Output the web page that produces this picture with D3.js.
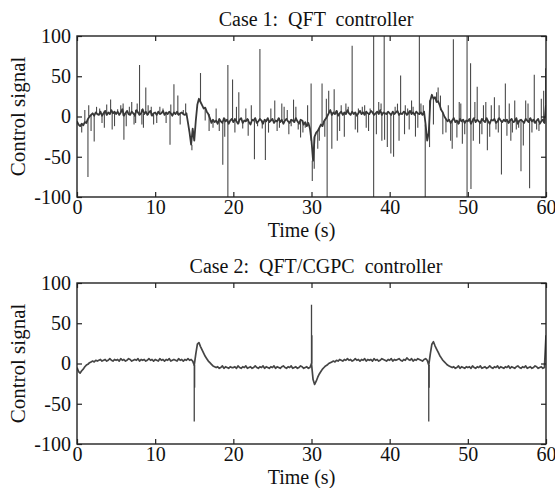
<!DOCTYPE html>
<html>
<head>
<meta charset="utf-8">
<script src="https://cdn.jsdelivr.net/npm/d3@7"></script>
<style>
  html, body { margin: 0; padding: 0; background: #fff; }
  svg { display: block; }
  text { font-family: "Liberation Serif", "Times New Roman", serif; fill: #111; }
</style>
</head>
<body>
<svg id="chart" width="555" height="488"></svg>
<script>
// ---------------- DATA ----------------
const xTicks = [0, 10, 20, 30, 40, 50, 60];
const yTicks = [-100, -50, 0, 50, 100];
const titles = ["Case 1:  QFT  controller", "Case 2:  QFT/CGPC  controller"];
const xLabel = "Time (s)";
const yLabel = "Control signal";
const sampleStep = 0.2; // seconds between base samples

// Case 1: base signal sampled every 0.2 s (t = 0 ... 60)
const case1Base = [
  -6,-10,-12,-9,-11,-7,-8,-3,0,2,4,1,5,3,2,6,1,4,7,2,5,3,8,4,6,
  3,6,2,5,9,1,4,7,3,2,6,4,1,8,5,2,4,9,3,6,2,5,7,1,4,
  5,2,6,3,4,7,2,5,3,6,4,1,5,3,6,2,4,5,3,2,4,-8,-20,-35,-15,
  -30,-5,15,22,18,14,10,11,6,3,-2,-8,-4,-7,-5,-9,-3,-6,-8,-2,-6,-4,-9,-5,-3,
  -7,-3,-6,-9,-4,-2,-8,-5,-6,-3,-7,-10,-4,-5,-2,-8,-6,-3,-5,-9,-4,-6,-2,-7,-5,
  -3,-8,-5,-6,-2,-7,-4,-9,-5,-3,-6,-8,-4,-5,-7,-2,-6,-9,-4,-5,-10,-7,-12,-8,-15,
  -30,-55,-25,-20,-18,-14,-10,-12,-6,-3,0,4,8,2,5,3,7,1,4,6,2,5,3,8,4,
  2,6,3,5,1,4,7,3,5,2,6,4,3,7,5,2,4,6,3,8,2,5,4,3,6,
  4,2,6,3,5,7,2,4,3,6,5,2,4,7,3,5,2,6,4,3,5,2,6,-10,-30,
  -20,20,27,22,24,18,19,14,8,5,0,-3,-6,-4,-8,-5,-2,-7,-5,-9,-3,-6,-4,-8,-5,
  -6,-3,-9,-5,-2,-7,-4,-6,-8,-3,-5,-7,-2,-6,-9,-4,-5,-3,-8,-6,-2,-5,-7,-4,-6,
  -4,-8,-5,-3,-7,-6,-2,-9,-5,-4,-6,-8,-3,-5,-7,-2,-6,-4,-8,-5,-3,-9,-6,-4,-8,
  15
];

// Case 1: large spikes [time, value]
const case1Spikes = [
  [1.4,-75],[1.5,14],[2.2,-31],[2.9,10],[3.5,-14],[4.3,21],[4.8,-12],[5.6,14],[6.0,-29],
  [6.7,12],[7.3,-10],[7.7,16],[8.0,64],[8.3,-10],[8.8,36],[9.5,12],[10.2,-8],[11.0,10],
  [11.9,-35],[12.4,40],[12.9,26],[13.6,8],[14.7,-42],[15.8,54],[16.4,-5],[17.4,-14],
  [18.2,-18],[18.65,-60],[19.3,64],[19.3,-100],[19.9,46],[20.2,-20],[20.7,30],[21.2,-15],
  [21.6,10],[22.7,-53],[23.1,-12],[23.4,84],[24.1,-54],[24.5,-20],[25.3,20],[25.9,-14],
  [26.5,12],[27.1,-22],[27.7,21],[28.3,-16],[28.9,-20],[29.5,14],[29.95,41],[30.1,-80],
  [30.35,-65],[30.8,-40],[31.35,41],[31.7,-25],[32.0,-100],[32.2,32],[32.6,-40],[32.9,34],
  [33.3,-30],[33.8,14],[34.2,-25],[34.7,12],[35.2,88],[35.6,-16],[36.0,10],[36.5,12],
  [37.0,-14],[37.5,10],[37.95,100],[37.95,-100],[38.6,18],[39.0,-30],[39.3,100],[39.35,-29],
  [40.15,-46],[40.5,-50],[41.0,16],[41.4,51],[41.9,-22],[42.3,10],[42.8,20],[43.3,-25],
  [43.8,100],[44.3,14],[44.55,-100],[45.1,-38],[46.0,30],[46.5,26],[47.2,-20],[47.8,-30],
  [48.15,96],[48.6,-26],[49.1,16],[49.6,-22],[49.9,100],[49.9,-100],[50.35,66],[50.4,-90],
  [50.9,18],[51.2,37],[51.5,-34],[52.0,14],[52.5,-42],[53.0,14],[53.4,24],[53.9,-20],
  [54.3,-72],[54.8,41],[55.3,16],[55.7,-20],[56.2,-16],[56.8,-68],[57.4,20],[57.9,-89],
  [58.5,52],[59.1,-18],[59.7,32],[59.95,60]
];

// Case 1: small noise spikes [time, value]
const case1SmallSpikes = [
  [0.6,-20],[1.0,8],[1.8,-18],[2.5,12],[3.2,-8],[3.8,15],[4.5,-16],[5.2,9],[5.9,16],
  [6.3,-12],[7.0,18],[7.5,-8],[8.5,-14],[9.1,14],[9.8,-10],[10.6,12],[11.4,-8],[12.0,15],
  [13.2,-10],[13.9,16],[14.3,-20],[16.9,-18],[17.8,10],[18.9,-25],[20.4,12],[21.9,-24],
  [22.3,14],[23.7,-15],[24.8,10],[25.6,-18],[26.2,16],[26.9,8],[27.4,-12],[28.0,12],
  [28.6,-26],[29.2,-14],[31.0,-30],[31.9,22],[33.6,-18],[34.4,16],[35.9,-20],[36.8,14],
  [37.3,-18],[38.3,-22],[38.9,16],[39.7,-38],[40.7,12],[41.2,-30],[42.0,14],[42.5,-16],
  [43.0,12],[43.6,-14],[44.0,16],[45.6,-10],[46.2,36],[46.8,-22],[47.5,14],[48.0,-40],
  [48.9,18],[49.3,-34],[50.7,-30],[51.8,-22],[52.3,18],[52.8,-25],[53.6,-16],[54.0,14],
  [55.0,-24],[55.5,-30],[56.0,20],[56.5,-14],[57.1,-36],[57.7,16],[58.2,-20],[58.8,-16],
  [59.4,22]
];

// Case 2: base signal sampled every 0.2 s (t = 0 ... 60)
const case2Base = [
  -5,-10,-12,-9,-7,-4,-2,-1,1,2,3,2,4,3,4,5,3,4,5,3,4,6,4,3,5,
  4,5,3,6,4,5,3,4,6,5,3,4,5,4,6,3,5,4,5,3,4,6,4,5,3,
  5,4,3,6,4,5,3,5,4,6,3,4,5,4,3,6,4,5,3,5,4,6,4,5,3,
  -2,12,24,26,21,17,13,9,6,3,1,-1,-3,-4,-5,-4,-6,-5,-3,-6,-4,-5,-6,-4,-5,
  -5,-4,-6,-3,-5,-6,-4,-5,-3,-6,-5,-4,-6,-5,-3,-5,-6,-4,-5,-3,-6,-4,-5,-6,-4,
  -5,-3,-6,-4,-5,-6,-4,-3,-5,-6,-4,-5,-3,-6,-5,-4,-6,-5,-3,-4,-6,-5,-4,-6,-5,
  0,-20,-26,-22,-17,-13,-10,-7,-5,-3,-2,0,1,2,3,2,4,3,5,4,3,5,4,6,4,
  5,3,4,6,4,5,3,5,4,6,3,5,4,5,3,6,4,5,3,4,6,5,4,3,5,
  4,6,3,5,4,5,6,4,3,5,4,7,5,4,6,3,5,4,6,5,4,3,5,6,4,
  -2,12,24,27,22,18,14,10,7,4,2,0,-2,-3,-4,-5,-4,-6,-5,-3,-6,-4,-5,-6,-4,
  -5,-4,-6,-3,-5,-6,-4,-5,-3,-6,-5,-4,-6,-5,-3,-5,-6,-4,-5,-3,-6,-4,-5,-6,-4,
  -5,-3,-6,-4,-5,-6,-4,-3,-5,-6,-4,-5,-3,-6,-5,-4,-6,-5,-3,-4,-6,-5,-4,-6,-5,
  35
];

// Case 2: spikes [time, value]
const case2Spikes = [
  [15.0,-72],[15.05,-30],[30.0,73],[30.05,35],[45.0,-72],[45.05,-30]
];

// ---------------- DRAWING ----------------
const svg = d3.select("#chart");
const panels = [
  { base: case1Base, spikes: case1Spikes.concat(case1SmallSpikes), title: titles[0], top: 36, bottom: 197,
    color: "#383838", width: 1.8, spikeColor: "#4a4a4a", spikeWidth: 1.1 },
  { base: case2Base, spikes: case2Spikes, title: titles[1], top: 283, bottom: 444,
    color: "#454545", width: 1.7, spikeColor: "#444", spikeWidth: 1.3 }
];
const left = 77, right = 546;

panels.forEach((p, idx) => {
  const x = d3.scaleLinear().domain([0, 60]).range([left, right]);
  const y = d3.scaleLinear().domain([-100, 100]).range([p.bottom, p.top]);
  const g = svg.append("g");

  const clipId = "clip" + idx;
  svg.append("clipPath").attr("id", clipId)
    .append("rect").attr("x", left).attr("y", p.top)
    .attr("width", right - left).attr("height", p.bottom - p.top);

  const pts = p.base.map((v, i) => ({ t: i * sampleStep, v }));
  const line = d3.line().x(d => x(d.t)).y(d => y(d.v));
  const plot = g.append("g").attr("clip-path", `url(#${clipId})`);

  // spikes: vertical strokes from the base sample nearest in time
  plot.selectAll("line.spike").data(p.spikes).join("line")
    .attr("class", "spike")
    .attr("x1", d => x(d[0])).attr("x2", d => x(d[0]))
    .attr("y1", d => y(p.base[Math.round(d[0] / sampleStep)]))
    .attr("y2", d => y(d[1]))
    .attr("stroke", p.spikeColor)
    .attr("stroke-width", p.spikeWidth);

  plot.append("path").datum(pts)
    .attr("d", line)
    .attr("fill", "none")
    .attr("stroke", p.color)
    .attr("stroke-width", p.width)
    .attr("stroke-linejoin", "round");

  const tickLen = 5;
  const fmt = d => String(d);
  const axB = g.append("g").attr("transform", `translate(0,${p.bottom})`)
    .call(d3.axisBottom(x).tickValues(xTicks).tickSizeInner(-tickLen).tickSizeOuter(0).tickPadding(3).tickFormat(fmt));
  const axT = g.append("g").attr("transform", `translate(0,${p.top})`)
    .call(d3.axisTop(x).tickValues(xTicks).tickSizeInner(-tickLen).tickSizeOuter(0).tickFormat(""));
  const axL = g.append("g").attr("transform", `translate(${left},0)`)
    .call(d3.axisLeft(y).tickValues(yTicks).tickSizeInner(-tickLen).tickSizeOuter(0).tickPadding(6).tickFormat(fmt));
  const axR = g.append("g").attr("transform", `translate(${right},0)`)
    .call(d3.axisRight(y).tickValues(yTicks).tickSizeInner(-tickLen).tickSizeOuter(0).tickFormat(""));
  [axB, axT, axL, axR].forEach(a => {
    a.select(".domain").remove();
    a.selectAll(".tick line").attr("stroke", "#222").attr("stroke-width", 1.2);
    a.selectAll("text").attr("font-size", 20).attr("fill", "#111")
      .style("font-family", '"Liberation Serif", "Times New Roman", serif');
  });
  axB.selectAll("text").attr("y", 17).attr("dy", null);

  // frame
  g.append("rect").attr("x", left).attr("y", p.top)
    .attr("width", right - left).attr("height", p.bottom - p.top)
    .attr("fill", "none").attr("stroke", "#222").attr("stroke-width", 1.4);

  // title
  g.append("text").attr("x", 316).attr("y", p.top - 10)
    .attr("text-anchor", "middle").attr("font-size", 20)
    .style("white-space", "pre").attr("xml:space", "preserve")
    .text(p.title);
  // x label
  g.append("text").attr("x", (left + right) / 2 - 10).attr("y", p.bottom + 40)
    .attr("text-anchor", "middle").attr("font-size", 20).text(xLabel);
  // y label
  g.append("text")
    .attr("transform", `translate(25,${(p.top + p.bottom) / 2}) rotate(-90)`)
    .attr("text-anchor", "middle").attr("font-size", 21).text(yLabel);
});
</script>
</body>
</html>
